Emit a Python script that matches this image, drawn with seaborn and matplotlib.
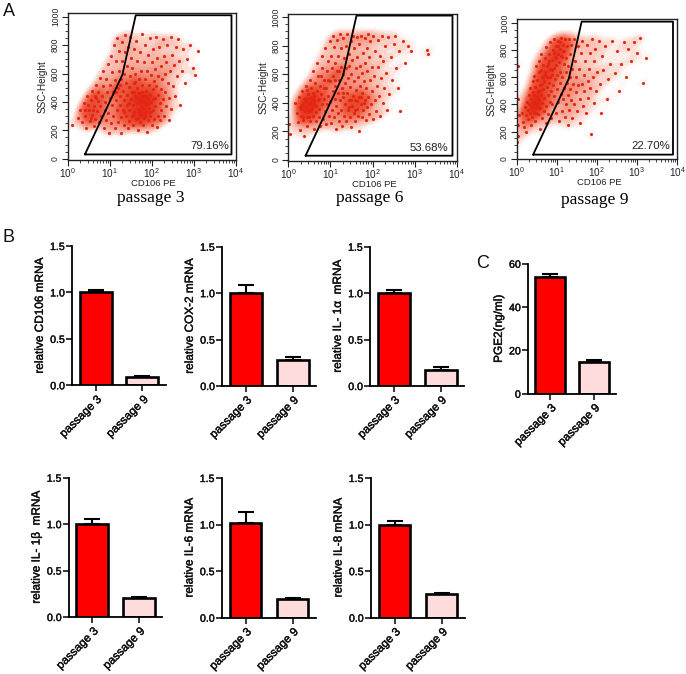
import numpy as np
import pandas as pd
import matplotlib
matplotlib.use("Agg")
import matplotlib.pyplot as plt
import matplotlib.patheffects as pe
from matplotlib.colors import LinearSegmentedColormap
import seaborn as sns

sns.set_theme(style="ticks")
plt.rcParams['font.family'] = ['Liberation Sans', 'DejaVu Sans']
plt.rcParams['mathtext.default'] = 'regular'

W, H = 686, 674
GROUPS = ["passage 3", "passage 9"]
BAR_COLORS = ["#ff0000", "#ffdcdc"]
DOT = "#e32612"
CLOUD = LinearSegmentedColormap.from_list(
    "cloud", [(0, "#ffffff"), (0.2, "#f8bcae"), (0.5, "#ec5a40"), (1, "#e32612")])

# (log10 CD106 PE, SSC-Height)
p3_points = [
(0.10,240),(0.25,290),(0.30,345),(0.35,255),(0.38,390),(0.42,300),(0.44,215),(0.46,440),(0.50,345),(0.52,265),
(0.55,410),(0.57,480),(0.58,310),(0.62,230),(0.63,370),(0.64,440),(0.66,280),(0.68,520),(0.70,335),(0.71,405),
(0.73,470),(0.75,255),(0.76,570),(0.78,370),(0.80,300),(0.81,440),(0.83,510),(0.85,620),(0.86,215),(0.88,345),
(0.89,400),(0.91,270),(0.92,560),(0.94,470),(0.95,665),(0.97,325),(0.98,180),(1.00,430),(1.01,520),(1.02,720),
(1.03,250),(1.05,375),(1.06,610),(1.08,300),(1.09,470),(1.10,800),(1.12,215),(1.13,555),(1.14,410),(1.15,690),
(1.17,340),(1.18,850),(1.19,260),(1.20,500),(1.21,620),(1.22,760),(1.24,380),(1.25,440),(1.26,295),(1.27,560),
(1.28,180),(1.29,820),(1.30,690),(1.31,345),(1.32,480),(1.33,240),(1.34,410),(1.35,600),(1.36,870),(1.37,750),
(1.38,300),(1.39,530),(1.40,375),(1.41,650),(1.42,450),(1.43,215),(1.44,790),(1.45,265),(1.46,505),(1.47,340),
(1.48,860),(1.49,580),(1.50,420),(1.51,710),(1.52,300),(1.53,470),(1.54,640),(1.55,380),(1.56,240),(1.57,530),
(1.58,770),(1.59,330),(1.60,440),(1.61,600),(1.62,830),(1.63,280),(1.64,500),(1.65,390),(1.66,690),(1.67,205),
(1.68,350),(1.69,560),(1.70,460),(1.71,260),(1.72,750),(1.73,410),(1.74,310),(1.75,620),(1.76,880),(1.77,520),
(1.78,365),(1.79,240),(1.80,445),(1.81,680),(1.82,290),(1.83,800),(1.84,395),(1.85,560),(1.86,330),(1.87,480),
(1.88,190),(1.89,620),(1.90,420),(1.91,270),(1.92,730),(1.93,360),(1.94,520),(1.95,850),(1.96,450),(1.97,300),
(1.98,590),(1.99,400),(2.00,240),(2.01,680),(2.02,490),(2.03,340),(2.04,770),(2.05,550),(2.06,280),(2.07,430),
(2.08,630),(2.09,370),(2.10,860),(2.11,510),(2.12,220),(2.13,710),(2.14,300),(2.15,450),(2.16,580),(2.18,790),
(2.19,390),(2.20,270),(2.21,650),(2.22,490),(2.23,340),(2.25,560),(2.26,840),(2.27,420),(2.29,720),(2.30,300),
(2.31,600),(2.32,470),(2.34,370),(2.35,680),(2.36,800),(2.38,530),(2.40,270),(2.41,430),(2.43,620),(2.45,860),
(2.47,350),(2.48,730),(2.50,510),(2.52,660),(2.55,440),(2.57,790),(2.60,580),(2.62,840),(2.65,690),(2.68,380),
(2.72,620),(2.75,770),(2.80,530),(2.85,700),(2.90,800),(2.98,640),(3.02,590),(3.10,760),(1.45,390),(1.55,310),
(1.62,425),(1.72,330),(1.78,470),(1.84,300),(1.90,385),(1.68,285),(1.58,470),(1.95,330),(1.76,405),(2.03,420),
(0.48,375),(0.60,340),(0.55,290),(0.68,430),(0.40,340),(1.35,330),(1.25,520),(1.15,470),(1.60,540),(1.85,440),
]
p6_points = [
(0.02,250),(0.03,180),(0.15,400),(0.20,330),(0.22,265),(0.25,440),(0.27,370),(0.28,210),(0.30,310),(0.32,480),
(0.34,400),(0.35,280),(0.37,345),(0.38,170),(0.40,430),(0.41,520),(0.42,370),(0.44,300),(0.45,240),(0.47,460),
(0.48,395),(0.50,340),(0.51,560),(0.52,275),(0.54,430),(0.55,500),(0.56,365),(0.58,310),(0.59,620),(0.60,215),
(0.61,450),(0.62,390),(0.64,540),(0.65,335),(0.66,270),(0.67,480),(0.69,680),(0.70,420),(0.71,590),(0.72,300),
(0.73,360),(0.75,520),(0.76,235),(0.77,460),(0.79,640),(0.80,390),(0.81,730),(0.82,290),(0.84,560),(0.85,430),
(0.86,340),(0.88,780),(0.89,500),(0.90,250),(0.91,620),(0.93,390),(0.94,690),(0.95,450),(0.97,310),(0.98,830),
(0.99,550),(1.00,410),(1.01,730),(1.02,260),(1.03,640),(1.04,350),(1.05,480),(1.06,870),(1.07,590),(1.08,300),
(1.09,790),(1.10,430),(1.11,680),(1.12,520),(1.13,220),(1.14,380),(1.15,840),(1.16,620),(1.17,470),(1.18,330),
(1.19,730),(1.20,270),(1.21,560),(1.22,880),(1.23,420),(1.24,650),(1.25,780),(1.26,350),(1.27,500),(1.28,240),
(1.29,600),(1.30,850),(1.31,440),(1.32,710),(1.33,310),(1.34,540),(1.35,390),(1.36,800),(1.37,640),(1.38,270),
(1.39,470),(1.40,880),(1.41,570),(1.42,350),(1.43,740),(1.44,420),(1.45,660),(1.46,300),(1.47,510),(1.48,830),
(1.49,230),(1.50,600),(1.51,380),(1.52,700),(1.53,450),(1.54,870),(1.55,330),(1.56,550),(1.57,780),(1.58,420),
(1.59,270),(1.60,640),(1.61,490),(1.62,860),(1.63,360),(1.64,720),(1.65,310),(1.66,580),(1.67,440),(1.68,810),
(1.69,200),(1.70,520),(1.71,660),(1.72,390),(1.73,870),(1.74,300),(1.75,610),(1.76,470),(1.77,750),(1.78,350),
(1.80,550),(1.81,850),(1.82,420),(1.83,680),(1.84,280),(1.85,500),(1.86,780),(1.87,370),(1.88,620),(1.89,880),
(1.90,440),(1.91,320),(1.92,720),(1.93,560),(1.95,830),(1.96,390),(1.98,650),(1.99,480),(2.00,290),(2.02,870),
(2.03,590),(2.05,420),(2.07,760),(2.08,340),(2.10,520),(2.12,840),(2.13,650),(2.15,450),(2.17,310),(2.18,730),
(2.20,570),(2.22,870),(2.24,400),(2.26,690),(2.28,500),(2.30,800),(2.33,610),(2.35,350),(2.38,860),(2.40,460),
(2.43,720),(2.46,560),(2.50,810),(2.53,870),(2.57,640),(2.60,500),(2.63,760),(2.66,340),(2.72,830),(2.78,680),
(2.85,800),(2.92,760),(3.30,770),(3.32,740),(0.30,360),(0.36,300),(0.42,410),(0.48,300),(0.54,340),(0.60,420),
(0.33,385),(0.46,350),(0.52,400),(0.66,380),(0.58,470),(0.72,430),(0.38,430),(0.45,490),(1.62,410),(1.72,440),
(1.58,350),(1.50,420),(1.80,400),(1.45,370),(1.30,470),(1.10,560),(1.20,620),(0.95,560),(0.85,500),(0.78,590),
]
p9_points = [
(0.01,120),(0.02,170),(0.03,250),(0.02,680),(0.03,440),(0.05,320),(0.12,340),(0.15,270),(0.18,230),(0.20,380),
(0.22,320),(0.24,200),(0.26,420),(0.27,360),(0.28,290),(0.30,470),(0.31,400),(0.32,340),(0.34,520),(0.35,250),
(0.36,440),(0.37,310),(0.38,380),(0.40,570),(0.41,490),(0.42,340),(0.43,420),(0.44,610),(0.45,280),(0.46,530),
(0.47,370),(0.48,460),(0.49,680),(0.50,400),(0.51,580),(0.52,330),(0.53,500),(0.54,430),(0.55,720),(0.56,640),
(0.57,220),(0.58,370),(0.59,540),(0.60,470),(0.61,770),(0.62,300),(0.63,600),(0.64,410),(0.65,690),(0.66,510),
(0.67,350),(0.68,570),(0.69,450),(0.70,740),(0.71,640),(0.72,260),(0.73,390),(0.74,820),(0.75,530),(0.76,600),
(0.77,470),(0.78,700),(0.79,330),(0.80,770),(0.81,560),(0.82,420),(0.83,660),(0.84,860),(0.85,500),(0.86,300),
(0.87,620),(0.88,730),(0.89,400),(0.90,800),(0.91,540),(0.92,670),(0.93,460),(0.94,880),(0.95,590),(0.96,750),
(0.97,340),(0.98,690),(0.99,830),(1.00,510),(1.01,620),(1.02,770),(1.03,420),(1.04,870),(1.05,280),(1.06,710),
(1.07,560),(1.08,810),(1.09,640),(1.10,480),(1.11,890),(1.12,750),(1.13,350),(1.14,600),(1.15,840),(1.16,440),
(1.17,700),(1.18,520),(1.19,790),(1.20,310),(1.21,880),(1.22,640),(1.23,400),(1.24,740),(1.25,560),(1.26,830),
(1.27,470),(1.28,250),(1.29,680),(1.30,880),(1.31,360),(1.32,600),(1.33,770),(1.34,510),(1.35,430),(1.36,840),
(1.38,300),(1.39,660),(1.40,550),(1.42,880),(1.43,400),(1.45,720),(1.47,490),(1.48,600),(1.50,350),(1.52,830),
(1.53,540),(1.55,660),(1.57,260),(1.58,440),(1.60,780),(1.62,550),(1.63,870),(1.65,390),(1.67,620),(1.69,500),
(1.71,720),(1.73,340),(1.75,840),(1.77,570),(1.79,450),(1.80,660),(1.82,780),(1.84,520),(1.86,180),(1.88,880),
(1.90,600),(1.92,410),(1.94,720),(1.96,810),(1.98,500),(2.00,640),(2.05,870),(2.08,550),(2.10,340),(2.12,760),
(2.15,650),(2.20,830),(2.25,440),(2.28,590),(2.32,700),(2.38,870),(2.45,630),(2.50,790),(2.55,500),(2.60,700),
(2.68,860),(2.72,600),(2.78,810),(2.85,720),(2.92,860),(3.00,780),(3.08,890),(3.16,560),(3.22,740),(0.45,400),
(0.48,340),(0.52,380),(0.42,470),(0.55,430),(0.58,500),(0.50,450),(0.62,550),(0.65,600),(0.60,650),(0.70,620),
(0.75,680),(0.80,720),(0.82,600),(0.88,650),(0.92,780),(0.98,740),(1.02,830),(1.08,860),(1.10,760),(1.15,790),
]
scatter_panels = ["passage 3", "passage 6", "passage 9"]
gate_log_x = [0.41, 1.30, 1.62, 3.90, 3.90, 0.41]
gate_ssc = [30, 590, 1010, 1010, 30, 30]
gate_percent = ["79.16%", "53.68%", "22.70%"]

# bar values
bar_labels = ["relative CD106 mRNA", "relative COX-2 mRNA", "relative IL- 1\u03b1  mRNA",
              "relative IL- 1\u03b2  mRNA", "relative IL-6 mRNA", "relative IL-8 mRNA"]
bar_means = [[1.00, 0.09], [1.00, 0.285], [1.00, 0.17], [1.00, 0.20], [1.02, 0.20], [1.00, 0.255]]
bar_tops = [[1.03, 0.10], [1.085, 0.31], [1.03, 0.205], [1.06, 0.21], [1.14, 0.21], [1.04, 0.265]]
pge2_means = [54.0, 14.8]
pge2_tops = [55.3, 15.6]

STROKE = [pe.withStroke(linewidth=0.3, foreground="#111111")]


def axes_px(x0, x1, y_top, y_bot):
    return plt.gcf().add_axes([x0 / W, 1 - y_bot / H, (x1 - x0) / W, (y_bot - y_top) / H])


fig = plt.figure(figsize=(W / 100, H / 100), dpi=100, facecolor="white")


def flow(points, box, y0, y1000, name, pct, name_xy, pct_xy, xlab_y):
    x0, x1, t, b = box
    ax = axes_px(x0, x1, t, b)
    df = pd.DataFrame(points, columns=["lx", "ssc"])
    df["cd106"] = 10 ** df["lx"]
    sns.kdeplot(data=df, x="cd106", y="ssc", log_scale=(True, False), ax=ax, fill=True, levels=24,
                thresh=0.04, bw_adjust=0.5, cmap=CLOUD)
    sns.scatterplot(data=df, x="cd106", y="ssc", ax=ax, s=5, color=DOT, linewidth=0, legend=False)
    ax.set_xscale("log")
    ax.set_xlim(1, 10000)
    per = (y0 - y1000) / 1000
    ax.set_ylim((y0 - b) / per, (y0 - t) / per)
    ax.plot(10 ** np.array(gate_log_x), gate_ssc, color="black", lw=1.3)
    ax.set_yticks(range(0, 1001, 200))
    ax.set_yticks(range(0, 1001, 50), minor=True)
    ax.set_xlabel(""); ax.set_ylabel("SSC-Height", fontsize=7.2, color="#222222", labelpad=2.5)
    ax.tick_params(axis="x", which="major", labelsize=7.2, length=4, width=0.8, pad=0.5, colors="#222222")
    ax.tick_params(axis="y", which="major", labelsize=6.2, length=4, width=0.8, pad=1.5, colors="#222222")
    ax.tick_params(axis="both", which="minor", length=2, width=0.6)
    for lab in ax.get_yticklabels():
        lab.set_rotation(90); lab.set_va("center")
    for s in ax.spines.values():
        s.set_linewidth(1.0); s.set_color("#222222"); s.set_visible(True)
    fig.text(pct_xy[0] / W, 1 - pct_xy[1] / H, pct, fontsize=8.2, color="#222222", ha="right", va="center")
    fig.text((x0 + x1) / 2 / W + 0.003, 1 - xlab_y / H, "CD106 PE", fontsize=6.8, color="#222222", ha="center", va="center")
    fig.text(name_xy[0] / W, 1 - name_xy[1] / H, name, fontsize=12.6, family="Liberation Serif",
             color="black", ha="center", va="center")


flow(p3_points, (67.7, 235.7, 12.7, 160), 158.7, 16.7, scatter_panels[0], gate_percent[0], (151, 198), (229, 146), 183.5)
flow(p6_points, (288.3, 456.7, 14, 161), 160, 17, scatter_panels[1], gate_percent[1], (370, 198), (448, 148), 184.5)
flow(p9_points, (516.7, 677, 19, 159.3), 158.7, 23, scatter_panels[2], gate_percent[2], (595, 200), (670, 146), 182.5)


def bars(means, tops, ylabel, box, ylim, yticks, fmt):
    x0, x1, t, b = box
    ax = axes_px(x0, x1, t, b)
    df = pd.DataFrame({"group": GROUPS, "value": means})
    sns.barplot(data=df, x="group", y="value", hue="group", palette=BAR_COLORS, legend=False, ax=ax,
                width=0.68, edgecolor="black", linewidth=1.9, errorbar=None, saturation=1)
    low = np.zeros(2)
    ax.errorbar([0, 1], means, yerr=[low, np.array(tops) - np.array(means)], fmt="none",
                ecolor="black", elinewidth=1.5, capsize=5.5, capthick=1.5)
    ax.set_xlim(-0.5, 1.5)
    ax.set_ylim(*ylim)
    ax.set_yticks(yticks)
    ax.set_yticklabels([fmt % v for v in yticks])
    ax.set_xlabel("")
    ax.set_ylabel(ylabel, fontsize=8.5, color="#111111", labelpad=3, path_effects=STROKE)
    ax.spines["top"].set_visible(False)
    ax.spines["right"].set_visible(False)
    for s in ("left", "bottom"):
        ax.spines[s].set_linewidth(1.3)
        ax.spines[s].set_color("black")
    ax.tick_params(axis="y", labelsize=7.6, length=4, width=1.3, pad=1.5)
    ax.tick_params(axis="x", labelsize=8.4, length=4, width=1.3, pad=2)
    for lab in ax.get_yticklabels() + ax.get_xticklabels():
        lab.set_color("#111111"); lab.set_path_effects(STROKE)
    for lab in ax.get_xticklabels():
        lab.set_rotation(45); lab.set_ha("right"); lab.set_rotation_mode("anchor")
    return ax


boxes = [(72.3, 165.7, 246, 385.3), (222.3, 316, 246.7, 386), (370.3, 464, 246.7, 386),
         (69, 162.3, 477.7, 617), (222, 316, 478, 617.7), (371, 465, 478, 617.7)]
for lab, m, e, bx in zip(bar_labels, bar_means, bar_tops, boxes):
    bars(m, e, lab, bx, (0, 1.5), [0.0, 0.5, 1.0, 1.5], "%.1f")
bars(pge2_means, pge2_tops, "PGE2(ng/ml)", (528.3, 615.7, 263.7, 393.7), (0, 60), [0, 20, 40, 60], "%d")

for t, x, y in (("A", 9, 12), ("B", 9, 237), ("C", 483, 264)):
    fig.text(x / W, 1 - y / H, t, fontsize=13, ha="center", va="center", color="#111111")

fig.savefig("out.png", dpi=100)
